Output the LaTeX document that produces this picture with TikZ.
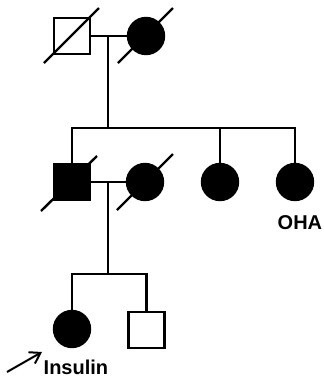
\documentclass[tikz,border=0pt]{standalone}
\usepackage{fontspec}
\setmainfont{Liberation Sans}
\usetikzlibrary{arrows.meta,calc}
\begin{document}
\begin{tikzpicture}[x=1bp,y=-1bp,
  ln/.style={line width=2.4bp,line cap=rect},
  male/.style={draw,line width=2.4bp,rectangle,minimum size=36bp,inner sep=0pt},
  female/.style={draw,line width=2.4bp,circle,minimum size=36bp,inner sep=0pt},
  aff/.style={fill=black},
  dead/.style={line width=2.4bp},
  lbl/.style={font=\bfseries\fontsize{20bp}{21bp}\selectfont,inner sep=0pt}]
\useasboundingbox (0,0) rectangle (324,381);
% generation I
\node[male] (g1m) at (72,36) {};
\node[female,aff] (g1f) at (146,36) {};
\draw[dead] ($(g1m)+(-28,27)$) -- ($(g1m)+(27,-28)$);
\draw[dead] ($(g1f)+(-28,27)$) -- ($(g1f)+(27,-28)$);
\draw[ln] (g1m.east) -- (g1f.west);
\coordinate (d1) at (108,36);
\coordinate (s1) at (108,128);
\draw[ln] (d1) -- (s1);
% generation II
\node[female,aff] (g2w) at (145,182) {};
\draw[dead] ($(g2w)+(-28,28)$) -- ($(g2w)+(28,-28)$);
\node[male,aff] (g2m) at (72,182) {};
\draw[dead] ($(g2m)+(-31,29)$) -- ($(g2m)+(25,-26)$);
\node[female,aff] (g2s1) at (220,182) {};
\node[female,aff] (g2s2) at (295,182) {};
\coordinate (sl) at (72,128);
\coordinate (sr) at (295,128);
\coordinate (s3) at (220,128);
\draw[ln] (sl) -- (sr);
\draw[ln] (sl) -- (g2m.north);
\draw[ln] (s3) -- (g2s1.north);
\draw[ln] (sr) -- (g2s2.north);
\draw[ln] (g2m.east) -- (g2w.west);
\node[lbl,anchor=base west] (oha) at (277.5,229) {OHA};
% generation III
\coordinate (d2) at (108,182);
\coordinate (s2) at (108,274);
\draw[ln] (d2) -- (s2);
\node[female,aff] (g3f) at (72,329) {};
\node[male] (g3m) at (146.5,330) {};
\coordinate (tl) at (72,274);
\coordinate (tr) at (146.5,274);
\draw[ln] (tl) -- (tr);
\draw[ln] (tl) -- (g3f.north);
\draw[ln] (tr) -- (g3m.north);
\node[lbl,anchor=base west] (ins) at (43.5,374) {Insulin};
\coordinate (ar) at (7,372);
\coordinate (ah) at (42,352);
\draw[line width=2bp,-{Straight Barb[length=10bp,width=13bp,line width=2bp]}] (ar) -- (ah);
\end{tikzpicture}
\end{document}
